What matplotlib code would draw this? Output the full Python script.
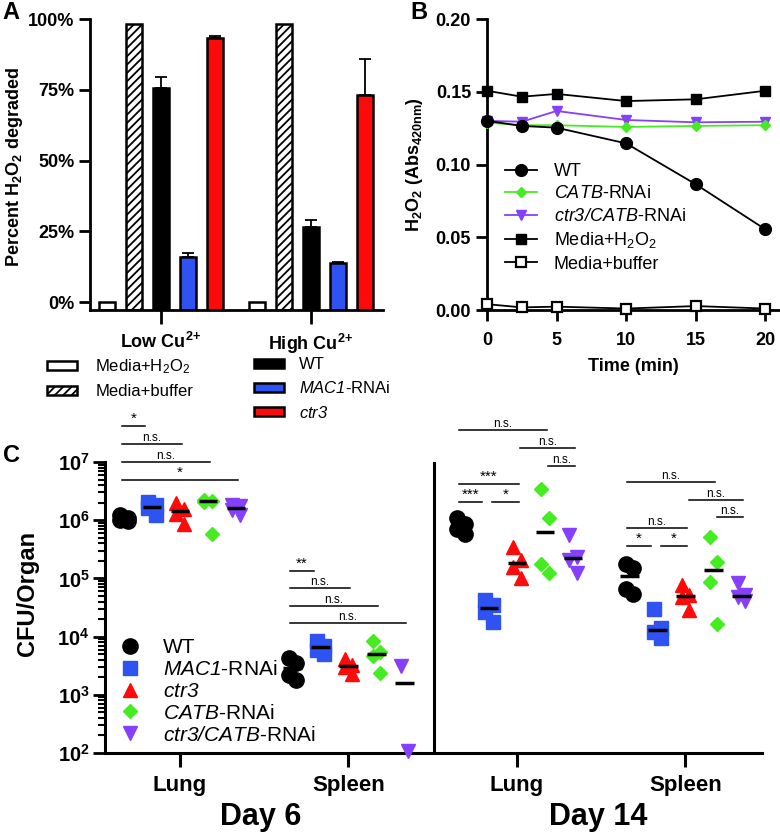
import numpy as np
import matplotlib
matplotlib.use('Agg')
import matplotlib.pyplot as plt
from matplotlib.patches import Patch
from matplotlib.lines import Line2D
from matplotlib.ticker import LogLocator, NullFormatter, FixedLocator

plt.rcParams['font.family'] = ['Liberation Sans', 'DejaVu Sans']
plt.rcParams['mathtext.fontset'] = 'custom'
plt.rcParams['mathtext.rm'] = 'Liberation Sans'
plt.rcParams['mathtext.it'] = 'Liberation Sans:italic'
plt.rcParams['mathtext.sf'] = 'Liberation Sans:italic'
plt.rcParams['mathtext.bf'] = 'Liberation Sans:bold'
plt.rcParams['mathtext.default'] = 'regular'
plt.rcParams['hatch.linewidth'] = 1.3

# ---- panel A: percent H2O2 degraded ----
cu_conditions = ['Low Cu$^{2}$$^{+}$', 'High Cu$^{2}$$^{+}$']
pct_media_h2o2 = [0.0, 0.0]
pct_media_buffer = [98.2, 98.2]
pct_wt = [75.7, 26.6]
err_wt = [3.7, 2.4]
pct_mac1 = [16.0, 13.7]
err_mac1 = [1.5, 0.5]
pct_ctr3 = [93.2, 73.1]
err_ctr3 = [0.8, 12.8]

# ---- panel B: H2O2 absorbance over time ----
time_min = [0, 2.5, 5, 10, 15, 20]
abs_wt = [0.130, 0.1265, 0.1253, 0.1145, 0.0864, 0.0554]
abs_catb = [0.1288, 0.127, 0.127, 0.1258, 0.1265, 0.127]
abs_ctr3_catb = [0.130, 0.1294, 0.1368, 0.1306, 0.129, 0.1294]
abs_media_h2o2 = [0.1507, 0.1466, 0.1485, 0.1436, 0.1448, 0.1507]
abs_media_buffer = [0.004, 0.0018, 0.0023, 0.001, 0.0027, 0.001]

# ---- panel C: CFU per organ (day6 lung, day6 spleen, day14 lung, day14 spleen) ----
organs = ['Lung', 'Spleen', 'Lung', 'Spleen']
days = ['Day 6', 'Day 14']
cfu_wt = [[1.22e6, 1.07e6, 1.0e6, 0.98e6],
          [4.3e3, 3.5e3, 2.2e3, 1.8e3],
          [1.07e6, 8.7e5, 7.2e5, 5.9e5],
          [1.76e5, 1.5e5, 6.7e4, 5.3e4]]
cfu_mac1 = [[2.05e6, 1.8e6, 1.6e6, 1.25e6],
            [8.5e3, 7.0e3, 6.0e3, 5.0e3],
            [4.3e4, 3.5e4, 2.6e4, 1.8e4],
            [3.0e4, 1.4e4, 1.22e4, 9.3e3]]
cfu_ctr3 = [[1.94e6, 1.58e6, 1.3e6, 0.87e6],
            [4.1e3, 3.2e3, 3.0e3, 2.3e3],
            [3.5e5, 2.1e5, 1.58e5, 1.0e5],
            [7.7e4, 5.2e4, 4.7e4, 2.9e4]]
cfu_catb = [[2.25e6, 2.15e6, 2.05e6, 5.8e5],
            [8.5e3, 5.5e3, 4.6e3, 2.4e3],
            [3.4e6, 1.07e6, 1.74e5, 1.22e5],
            [5.2e5, 1.9e5, 8.8e4, 1.65e4]]
cfu_ctr3_catb = [[1.85e6, 1.75e6, 1.5e6, 1.22e6],
                 [3.1e3, 107],
                 [5.5e5, 2.35e5, 2.1e5, 1.22e5],
                 [8.2e4, 5.1e4, 4.7e4, 4.1e4]]

# comparisons: (organ group, strain i, strain j, log10 height, label)
sig_marks = [
    (0, 0, 1, 7.617, '*'), (0, 0, 2, 7.309, 'n.s.'),
    (0, 0, 3, 7.0, 'n.s.'), (0, 0, 4, 6.697, '*'),
    (1, 0, 1, 5.131, '**'), (1, 0, 2, 4.83, 'n.s.'),
    (1, 0, 3, 4.526, 'n.s.'), (1, 0, 4, 4.23, 'n.s.'),
    (2, 0, 3, 7.543, 'n.s.'), (2, 2, 4, 7.24, 'n.s.'),
    (2, 3, 4, 6.93, 'n.s.'), (2, 0, 2, 6.629, '***'),
    (2, 0, 1, 6.314, '***'), (2, 1, 2, 6.314, '*'),
    (3, 0, 3, 6.657, 'n.s.'), (3, 2, 4, 6.354, 'n.s.'),
    (3, 3, 4, 6.057, 'n.s.'), (3, 0, 2, 5.869, 'n.s.'),
    (3, 0, 1, 5.56, '*'), (3, 1, 2, 5.56, '*'),
]

BLUE = '#2f52f2'
RED = '#ff0a0a'
GREEN = '#46ec22'
PURPLE = '#8640fb'

W, H = 780, 833
fig = plt.figure(figsize=(7.8, 8.33), dpi=100)


def px_axes(left, top, right, bottom):
    return fig.add_axes([left / W, 1 - bottom / H, (right - left) / W, (bottom - top) / H])


def style_spines(ax, lw):
    for s in ['top', 'right']:
        ax.spines[s].set_visible(False)
    for s in ['left', 'bottom']:
        ax.spines[s].set_linewidth(lw)


# ================= A =================
axA = px_axes(90, 19, 383, 310)
style_spines(axA, 2.0)
base = -2.8
gx = np.arange(len(cu_conditions))
step = 0.18
bw = 0.107
bar_sets = [
    (pct_media_h2o2, None, 'white', None),
    (pct_media_buffer, None, 'white', '////'),
    (pct_wt, err_wt, 'black', None),
    (pct_mac1, err_mac1, BLUE, None),
    (pct_ctr3, err_ctr3, RED, None),
]
for k, (vals, errs, col, hatch) in enumerate(bar_sets):
    xs = gx + (k - 2) * step
    vals = np.array(vals)
    axA.bar(xs, vals - base, bottom=base, width=bw, color=col, edgecolor='black',
            linewidth=1.8, hatch=hatch, zorder=2)
    if errs is not None:
        axA.errorbar(xs, vals, yerr=[np.zeros(len(errs)), errs], fmt='none',
                     ecolor='black', elinewidth=1.3, capsize=4, capthick=1.3, zorder=1)
axA.set_xlim(-0.473, 1.48)
axA.set_ylim(base, 100)
axA.set_yticks([0, 25, 50, 75, 100])
axA.set_yticklabels(['0%', '25%', '50%', '75%', '100%'])
axA.set_xticks(gx)
axA.set_xticklabels(cu_conditions)
axA.tick_params(axis='y', length=8, width=2, labelsize=13, pad=3)
axA.tick_params(axis='x', length=10, width=2, labelsize=13, pad=6)
for t in axA.get_xticklabels() + axA.get_yticklabels():
    t.set_fontweight('bold')
axA.set_ylabel('Percent H$_2$O$_2$ degraded', fontsize=13, fontweight='bold')
axA.yaxis.set_label_coords(-0.222, 0.49)

legA1 = fig.legend(handles=[Patch(facecolor='white', edgecolor='black', linewidth=1.8),
                            Patch(facecolor='white', edgecolor='black', linewidth=1.8, hatch='////')],
                   labels=['Media+H$_2$O$_2$', 'Media+buffer'],
                   loc='upper left', bbox_to_anchor=(47 / W, 1 - 357 / H), frameon=False,
                   fontsize=12, handlelength=1.8, handleheight=0.45, handletextpad=1.1,
                   labelspacing=0.5, borderpad=0, borderaxespad=0)
legA2 = fig.legend(handles=[Patch(facecolor='black', edgecolor='black', linewidth=1.8),
                            Patch(facecolor=BLUE, edgecolor='black', linewidth=1.8),
                            Patch(facecolor=RED, edgecolor='black', linewidth=1.8)],
                   labels=['WT', '$\\mathsf{MAC1}$-RNAi', '$\\mathsf{ctr3}$'],
                   loc='upper left', bbox_to_anchor=(254 / W, 1 - 357 / H), frameon=False,
                   fontsize=12, handlelength=1.8, handleheight=0.45, handletextpad=0.9,
                   labelspacing=0.5, borderpad=0, borderaxespad=0)

# ================= B =================
axB = px_axes(487, 19, 780, 310)
style_spines(axB, 2.0)
axB.plot(time_min, abs_media_buffer, color='black', lw=1.3, marker='s', ms=7.5,
         mfc='white', mec='black', mew=1.6, clip_on=False, zorder=3, label='Media+buffer')
axB.plot(time_min, abs_media_h2o2, color='black', lw=1.3, marker='s', ms=7.5,
         clip_on=False, zorder=3, label='Media+H$_2$O$_2$')
axB.plot(time_min, abs_ctr3_catb, color=PURPLE, lw=1.3, marker='v', ms=7.5,
         clip_on=False, zorder=3, label='$\\mathsf{ctr3/CATB}$-RNAi')
axB.plot(time_min, abs_catb, color=GREEN, lw=1.3, marker='D', ms=5.5,
         clip_on=False, zorder=3, label='$\\mathsf{CATB}$-RNAi')
axB.plot(time_min, abs_wt, color='black', lw=1.3, marker='o', ms=8.5,
         clip_on=False, zorder=4, label='WT')
axB.set_xlim(0, 21.05)
axB.set_ylim(0, 0.2)
axB.set_xticks([0, 5, 10, 15, 20])
axB.set_yticks([0, 0.05, 0.10, 0.15, 0.20])
axB.set_yticklabels(['0.00', '0.05', '0.10', '0.15', '0.20'])
axB.tick_params(axis='both', length=8, width=2, labelsize=13)
axB.tick_params(axis='x', pad=8)
for t in axB.get_xticklabels() + axB.get_yticklabels():
    t.set_fontweight('bold')
axB.set_ylabel('H$_2$O$_2$ (Abs$_{420nm}$)', fontsize=13, fontweight='bold')
axB.yaxis.set_label_coords(-0.212, 0.5)
axB.set_xlabel('Time (min)', fontsize=13, fontweight='bold')
axB.xaxis.set_label_coords(0.498, -0.165)
hB, lB = axB.get_legend_handles_labels()
order = [4, 3, 2, 1, 0]
fig.legend([hB[i] for i in order], [lB[i] for i in order], loc='upper left',
           bbox_to_anchor=(505 / W, 1 - 163 / H), frameon=False, fontsize=13,
           handlelength=1.75, handletextpad=0.95, labelspacing=0.3,
           borderpad=0, borderaxespad=0)

# ================= C =================
axC = px_axes(105, 462, 762, 753)
style_spines(axC, 2.2)
axC.set_yscale('log')
axC.set_ylim(1e2, 1e7)
axC.set_xlim(-0.445, 3.454)
strains = [
    (cfu_wt, 'black', 'o', 11, 'WT'),
    (cfu_mac1, BLUE, 's', 10, '$\\mathsf{MAC1}$-RNAi'),
    (cfu_ctr3, RED, '^', 10, '$\\mathsf{ctr3}$'),
    (cfu_catb, GREEN, 'D', 7.5, '$\\mathsf{CATB}$-RNAi'),
    (cfu_ctr3_catb, PURPLE, 'v', 10, '$\\mathsf{ctr3/CATB}$-RNAi'),
]
sstep = 0.166
jitter = np.array([-1, 1, -1, 1]) * 0.022
for k, (cfu, col, mk, ms, lab) in enumerate(strains):
    for g, vals in enumerate(cfu):
        vals = np.array(vals)
        xc = g + (k - 2) * sstep
        xs = xc + jitter[:len(vals)]
        axC.plot(xs, vals, ls='none', marker=mk, ms=ms, color=col, mec=col,
                 clip_on=False, zorder=3)
        axC.hlines(np.median(vals), xc - 0.055, xc + 0.055, color='black',
                   lw=2.5, zorder=4)
axC.axvline(1.507, color='black', lw=2.2)

axC.yaxis.set_major_locator(FixedLocator([1e2, 1e3, 1e4, 1e5, 1e6, 1e7]))
axC.set_yticklabels(['10$^{%d}$' % e for e in range(2, 8)])
axC.yaxis.set_minor_locator(LogLocator(base=10, subs=np.arange(2, 10)))
axC.yaxis.set_minor_formatter(NullFormatter())
axC.tick_params(axis='y', which='major', length=9, width=2, labelsize=14.5, pad=2)
axC.tick_params(axis='y', which='minor', length=5, width=1.5)
axC.set_xticks(range(len(organs)))
axC.set_xticklabels(organs)
axC.tick_params(axis='x', length=10, width=2.2, labelsize=16, pad=6)
for t in axC.get_xticklabels() + axC.get_yticklabels():
    t.set_fontweight('bold')

for g, i, j, ly, lab in sig_marks:
    x1 = g + (i - 2) * sstep + (-0.015 if i == 0 else 0.02)
    x2 = g + (j - 2) * sstep + (-0.04 if (j - i == 1 and i == 0) else 0.01)
    axC.plot([x1, x2], [10 ** ly, 10 ** ly], color='black', lw=1.1, clip_on=False)
    fs = 11 if '*' in lab else 8.5
    axC.annotate(lab, xy=((x1 + x2) / 2, 10 ** ly), xytext=(0, 0),
                 textcoords='offset points', ha='center', va='bottom',
                 fontsize=fs, annotation_clip=False)

fig.text(27 / W, 1 - 593 / H, 'CFU/Organ', rotation=90, ha='center', va='center',
         fontsize=17, fontweight='bold')
fig.text(261 / W, 1 - 817 / H, days[0], ha='center', va='center', fontsize=22, fontweight='bold')
fig.text(598 / W, 1 - 817 / H, days[1], ha='center', va='center', fontsize=22, fontweight='bold')

hC = [Line2D([], [], ls='none', marker=mk, ms=ms, color=col, mec=col)
      for (_, col, mk, ms, _) in strains]
fig.legend(hC, [s[4] for s in strains], loc='upper left',
           bbox_to_anchor=(120 / W, 1 - 638 / H), frameon=False, fontsize=15,
           handlelength=1.0, handletextpad=1.05, labelspacing=0.14,
           borderpad=0, borderaxespad=0)

# panel letters
fig.text(2 / W, 1 - 19 / H, 'A', fontsize=17, fontweight='bold', va='baseline')
fig.text(410 / W, 1 - 19 / H, 'B', fontsize=17, fontweight='bold', va='baseline')
fig.text(3 / W, 1 - 462 / H, 'C', fontsize=17, fontweight='bold', va='baseline')

fig.savefig('out.png', dpi=100, facecolor='white')
